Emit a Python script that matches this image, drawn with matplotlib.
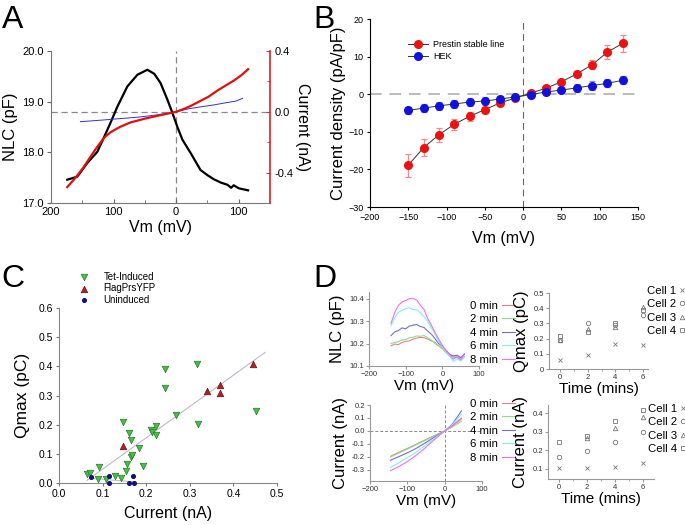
import numpy as np
import matplotlib
matplotlib.use("Agg")
import matplotlib.pyplot as plt

plt.rcParams['font.family'] = ['Liberation Sans', 'DejaVu Sans']

# ============================
# data: panel A (NLC and current vs Vm, axis reversed)
# ============================
vm_black = [174, 158, 142, 126, 117, 105, 94, 78, 62, 46, 35, 25, 14, 6, -2, -10,
            -23, -39, -50, -60, -72, -82, -88, -92, -100, -115]
nlc_black = [17.46, 17.52, 17.79, 18.01, 18.25, 18.58, 18.9, 19.3, 19.53, 19.63, 19.55,
             19.37, 19.04, 18.78, 18.5, 18.25, 17.99, 17.65, 17.55, 17.47, 17.4, 17.36,
             17.3, 17.35, 17.29, 17.25]
vm_red = [174, 160, 148, 136, 126, 115, 105, 90, 73, 50, 25, 0, -12, -25, -39, -52,
          -66, -80, -92, -104, -115]
i_red = [-0.495, -0.43, -0.365, -0.29, -0.23, -0.17, -0.135, -0.1, -0.07, -0.045,
         -0.022, 0.0, 0.018, 0.042, 0.072, 0.1, 0.14, 0.175, 0.205, 0.24, 0.28]
vm_blue = [153, 120, 90, 60, 30, 0, -20, -40, -60, -80, -95, -106]
i_blue = [-0.065, -0.055, -0.045, -0.035, -0.02, 0.0, 0.02, 0.033, 0.045, 0.06, 0.07, 0.088]

# ============================
# data: panel B (current density)
# ============================
vm_b = [-150, -130, -110, -90, -70, -50, -30, -10, 10, 30, 50, 70, 90, 110, 130]
prestin = [-18.9, -14.2, -10.8, -8.0, -5.9, -4.1, -2.3, -1.0, 0.3, 1.6, 3.3, 5.4, 7.8, 11.2, 13.5]
prestin_err = [3.0, 2.3, 1.8, 1.5, 1.1, 0.8, 0.5, 0.4, 0.4, 0.5, 0.6, 0.8, 1.2, 1.8, 2.3]
hek = [-4.3, -3.7, -3.1, -2.6, -2.1, -1.8, -1.3, -0.7, -0.1, 0.6, 1.1, 1.7, 2.3, 2.9, 3.7]
hek_err = [1.0, 1.0, 1.0, 1.0, 1.0, 1.0, 0.9, 0.8, 0.8, 0.8, 0.9, 1.0, 1.1, 1.1, 1.1]

# ============================
# data: panel C (Qmax vs current)
# ============================
tet_x = [0.064, 0.071, 0.092, 0.090, 0.107, 0.128, 0.143, 0.146, 0.153, 0.155, 0.160,
         0.165, 0.164, 0.168, 0.184, 0.193, 0.212, 0.213, 0.223, 0.223, 0.243, 0.243,
         0.268, 0.316, 0.318, 0.452]
tet_y = [0.032, 0.034, 0.055, 0.014, 0.015, 0.025, 0.016, 0.209, 0.041, 0.066, 0.170,
         0.149, 0.089, 0.096, 0.120, 0.057, 0.181, 0.176, 0.194, 0.163, 0.392, 0.326,
         0.232, 0.409, 0.203, 0.248]
flag_x = [0.146, 0.340, 0.370, 0.370, 0.444]
flag_y = [0.126, 0.314, 0.337, 0.309, 0.408]
unind_x = [0.073, 0.115, 0.115, 0.160, 0.170, 0.172]
unind_y = [0.020, 0.025, 0.0, 0.0, 0.024, 0.0]
fit_x = [0.064, 0.473]
fit_y = [0.009, 0.448]
fit_un_x = [0.071, 0.174]
fit_un_y = [0.016, 0.004]

# ============================
# data: panel D
# ============================
vm_d = [-140, -130, -120, -110, -100, -90, -80, -70, -60, -50, -40, -30, -20, -10,
        0, 10, 20, 30, 40, 50, 60]
nlc_d = {
    "0 min": [10.19, 10.198, 10.195, 10.205, 10.21, 10.212, 10.22, 10.224, 10.228, 10.226,
              10.22, 10.212, 10.205, 10.19, 10.178, 10.16, 10.152, 10.14, 10.138, 10.13, 10.14],
    "2 min": [10.2, 10.205, 10.208, 10.216, 10.218, 10.226, 10.228, 10.234, 10.232, 10.236,
              10.226, 10.216, 10.2, 10.19, 10.18, 10.168, 10.15, 10.142, 10.14, 10.135, 10.145],
    "4 min": [10.235, 10.252, 10.258, 10.27, 10.266, 10.278, 10.282, 10.285, 10.276, 10.272,
              10.256, 10.242, 10.222, 10.2, 10.188, 10.17, 10.152, 10.145, 10.148, 10.138, 10.152],
    "6 min": [10.28, 10.315, 10.34, 10.348, 10.356, 10.36, 10.352, 10.35, 10.338, 10.32,
              10.3, 10.27, 10.242, 10.21, 10.19, 10.16, 10.142, 10.12, 10.132, 10.122, 10.14],
    "8 min": [10.29, 10.338, 10.37, 10.386, 10.392, 10.4, 10.402, 10.394, 10.372, 10.352,
              10.312, 10.282, 10.25, 10.22, 10.192, 10.17, 10.15, 10.13, 10.142, 10.128, 10.155],
}
vm_iv = [-145, -120, -100, -80, -60, -40, -20, 0, 20, 45]
iv_d = {
    "0 min": [-0.195, -0.16, -0.135, -0.108, -0.08, -0.052, -0.026, 0.0, 0.035, 0.092],
    "2 min": [-0.2, -0.166, -0.14, -0.112, -0.083, -0.056, -0.028, 0.0, 0.03, 0.075],
    "4 min": [-0.225, -0.194, -0.168, -0.14, -0.106, -0.07, -0.035, 0.0, 0.05, 0.155],
    "6 min": [-0.28, -0.24, -0.205, -0.17, -0.128, -0.085, -0.042, 0.0, 0.045, 0.13],
    "8 min": [-0.305, -0.27, -0.235, -0.195, -0.15, -0.098, -0.048, 0.0, 0.04, 0.1],
}
min_colors = ["#f08080", "#88e088", "#7070d0", "#80f0f0", "#f070f0"]

time_d = [0, 2, 4, 6]
cells = ["Cell 1", "Cell 2", "Cell 3", "Cell 4"]
cell_markers = ["x", "o", "^", "s"]
qmax_d = [[0.06, 0.09, 0.165, 0.16],
          [0.19, 0.305, 0.29, 0.355],
          [0.19, 0.265, 0.275, 0.41],
          [0.22, 0.245, 0.305, 0.385]]
cur_d = [[0.103, 0.103, 0.112, 0.133],
         [0.165, 0.196, 0.246, 0.296],
         [np.nan, 0.264, 0.321, 0.378],
         [0.242, 0.278, 0.358, 0.416]]

# ============================
# figure
# ============================
FW, FH = 685, 525
fig = plt.figure(figsize=(6.85, 5.25), dpi=100)
fig.patch.set_facecolor("white")


def rect(l, t, r, b):
    return [l / FW, 1 - b / FH, (r - l) / FW, (b - t) / FH]


def letter(x, y, s):
    fig.text(x / FW, 1 - y / FH, s, fontsize=23, va="baseline", ha="left")


# ---------------- Panel A ----------------
ax = fig.add_axes(rect(51, 51, 270, 203))
ax.plot(vm_black, nlc_black, color="black", lw=1.6, zorder=3)
ax.axhline(18.8, color="#888888", lw=0.9, ls=(0, (5, 3)), zorder=1)
ax.axvline(0, color="#888888", lw=0.9, ls=(0, (5, 3)), zorder=1)
ax.set_xlim(200, -150)
ax.set_ylim(17, 20)
ax.set_xticks([200, 100, 0, -100])
ax.set_xticklabels(["200", "100", "0", "100"])
ax.set_xticks([150, 50, -50], minor=True)
ax.set_yticks([17, 18, 19, 20])
ax.set_yticklabels(["17.0", "18.0", "19.0", "20.0"])
ax.tick_params(axis="x", direction="in", length=3, labelsize=8, pad=3, color="#666666")
ax.tick_params(axis="x", which="minor", direction="in", length=2, color="#666666")
ax.tick_params(axis="y", direction="out", length=3, labelsize=8, pad=2, color="#666666")
for s in ["top", "right"]:
    ax.spines[s].set_visible(False)
for s in ["left", "bottom"]:
    ax.spines[s].set_color("#777777")
ax.set_xlabel("Vm (mV)", fontsize=11.5, labelpad=2)
ax.set_ylabel("NLC (pF)", fontsize=12, labelpad=3)

ax2 = ax.twinx()
ax2.plot(vm_red, i_red, color="#e01010", lw=1.6, zorder=3)
ax2.plot(vm_blue, i_blue, color="#3030e0", lw=0.7, zorder=2)
ax2.set_ylim(-0.6, 0.4)
ax2.set_yticks([-0.4, 0.0, 0.4])
ax2.set_yticklabels(["-0.4", "0.0", "0.4"])
ax2.set_yticks([-0.2, 0.2], minor=True)
ax2.tick_params(axis="y", direction="in", length=3, color="#e03030", labelsize=8, pad=3)
ax2.tick_params(axis="y", which="minor", direction="in", length=2, color="#e03030")
for s in ["top", "left", "bottom"]:
    ax2.spines[s].set_visible(False)
ax2.spines["right"].set_color("#e02020")
ax2.spines["right"].set_linewidth(1.2)
ax2.set_ylabel("Current (nA)", fontsize=11.5, rotation=270, labelpad=12)
letter(2, 28, "A")

# ---------------- Panel B ----------------
bx = fig.add_axes(rect(370, 19, 638, 207))
bx.axhline(0, color="#bbbbbb", lw=1.4, ls=(0, (6, 4)), zorder=1)
bx.axvline(0, color="#666666", lw=0.8, ls=(0, (6, 4)), zorder=1)
bx.errorbar(vm_b, prestin, yerr=prestin_err, fmt="none", ecolor="#f08a8a",
            elinewidth=0.9, capsize=2.5, capthick=0.9, zorder=2)
bx.errorbar(vm_b, hek, yerr=hek_err, fmt="none", ecolor="#8a8af0",
            elinewidth=0.9, capsize=2.5, capthick=0.9, zorder=2)
bx.plot(vm_b, prestin, color="#333333", lw=0.7, marker="o", ms=5.5,
        mfc="#ee1111", mec="#ee1111", label="Prestin stable line", zorder=3)
bx.plot(vm_b, hek, color="#333333", lw=0.7, marker="o", ms=5.5,
        mfc="#1111dd", mec="#1111dd", label="HEK", zorder=3)
bx.set_xlim(-200, 150)
bx.set_ylim(-30, 20)
bx.set_xticks([-200, -150, -100, -50, 0, 50, 100, 150])
bx.set_yticks([-30, -20, -10, 0, 10, 20])
bx.tick_params(direction="out", length=2.5, labelsize=6.5, pad=2)
for s in ["top", "right"]:
    bx.spines[s].set_visible(False)
bx.set_xlabel("Vm (mV)", fontsize=11.5, labelpad=6)
bx.set_ylabel("Current density (pA/pF)", fontsize=12, labelpad=2)
bx.legend(loc="upper left", bbox_to_anchor=(408 / FW, 1 - 40 / FH),
          bbox_transform=fig.transFigure, frameon=False, fontsize=6.5,
          handlelength=2.2, handletextpad=0.6, labelspacing=0.3, borderpad=0,
          borderaxespad=0)
letter(313, 28, "B")

# ---------------- Panel C ----------------
cx = fig.add_axes(rect(59, 308, 277, 483))
cx.plot(fit_x, fit_y, color="#c0b8c8", lw=0.8, zorder=1)
cx.plot(fit_un_x, fit_un_y, color="#c0c0c0", lw=0.8, zorder=1)
cx.scatter(tet_x, tet_y, marker="v", s=22, color="#44c044", edgecolors="#2a7a2a",
           linewidths=0.5, label="Tet-Induced", zorder=3, clip_on=False)
cx.scatter(flag_x, flag_y, marker="^", s=22, color="#b02020", edgecolors="#701010",
           linewidths=0.5, label="FlagPrsYFP", zorder=3, clip_on=False)
cx.scatter(unind_x, unind_y, marker="o", s=7, color="#101080",
           label="Uninduced", zorder=4, clip_on=False)
cx.set_xlim(0, 0.5)
cx.set_ylim(0, 0.6)
cx.set_xticks([0, 0.1, 0.2, 0.3, 0.4, 0.5])
cx.set_xticklabels(["0.0", "0.1", "0.2", "0.3", "0.4", "0.5"])
cx.set_yticks([0, 0.1, 0.2, 0.3, 0.4, 0.5, 0.6])
cx.set_yticklabels(["0.0", "0.1", "0.2", "0.3", "0.4", "0.5", "0.6"])
cx.tick_params(direction="out", length=2.5, labelsize=7.5, pad=2, color="#777777")
for s in ["top", "right"]:
    cx.spines[s].set_visible(False)
for s in ["left", "bottom"]:
    cx.spines[s].set_color("#888888")
cx.set_xlabel("Current (nA)", fontsize=11.5, labelpad=5)
cx.set_ylabel("Qmax (pC)", fontsize=12.5, labelpad=6)
cx.legend(loc="upper left", bbox_to_anchor=(80 / FW, 1 - 272 / FH),
          bbox_transform=fig.transFigure, frameon=False, fontsize=7,
          handlelength=0.8, handletextpad=1.6, labelspacing=0.15, borderpad=0,
          borderaxespad=0, scatterpoints=1)
letter(1, 287, "C")

# ---------------- Panel D ----------------
def style_d(a):
    for s in ["top", "right"]:
        a.spines[s].set_visible(False)
    for s in ["left", "bottom"]:
        a.spines[s].set_color("#999999")
    a.tick_params(direction="out", length=2, labelsize=5.5, pad=1.5,
                  color="#999999", labelcolor="#333333")


leg_kw = dict(bbox_transform=fig.transFigure, frameon=False, fontsize=8.2,
              markerfirst=False, labelspacing=0.3, borderpad=0, borderaxespad=0,
              loc="upper left")

# top-left: NLC traces
d1 = fig.add_axes(rect(369, 292, 479, 366))
for (lab, vals), col in zip(nlc_d.items(), min_colors):
    d1.plot(vm_d, vals, color=col, lw=0.8, label=lab)
d1.set_xlim(-200, 100)
d1.set_ylim(10.1, 10.43)
d1.set_xticks([-200, -100, 0, 100])
d1.set_yticks([10.1, 10.2, 10.3, 10.4])
d1.set_yticklabels(["10.1", "10.2", "10.3", "10.4"])
style_d(d1)
d1.set_xlabel("Vm (mV)", fontsize=11, labelpad=1)
d1.set_ylabel("NLC (pF)", fontsize=12, labelpad=3)
d1.legend(bbox_to_anchor=(470 / FW, 1 - 301 / FH), handlelength=1.1,
          handletextpad=0.4, **leg_kw)

# bottom-left: IV traces
d2 = fig.add_axes(rect(370, 405, 482, 481))
d2.axhline(0, color="#888888", lw=0.7, ls=(0, (3, 2)), zorder=1)
d2.axvline(0, color="#888888", lw=0.7, ls=(0, (3, 2)), zorder=1)
for (lab, vals), col in zip(iv_d.items(), min_colors):
    d2.plot(vm_iv, vals, color=col, lw=0.8, label=lab)
d2.set_xlim(-200, 100)
d2.set_ylim(-0.385, 0.2)
d2.set_xticks([-200, -100, 0, 100])
d2.set_yticks([-0.3, -0.2, -0.1, 0.0, 0.1, 0.2])
d2.set_yticklabels(["-0.3", "-0.2", "-0.1", "0.0", "0.1", "0.2"])
style_d(d2)
d2.set_xlabel("Vm (mV)", fontsize=11, labelpad=1)
d2.set_ylabel("Current (nA)", fontsize=12, labelpad=3)
d2.legend(bbox_to_anchor=(470 / FW, 1 - 399 / FH), handlelength=1.1,
          handletextpad=0.4, **leg_kw)

# top-right: Qmax over time
d3 = fig.add_axes(rect(549, 293, 648, 369))
for lab, m, vals in zip(cells, cell_markers, qmax_d):
    d3.plot(time_d, vals, ls="none", marker=m, ms=3.2, mfc="none", mec="#777777",
            mew=0.6, label=lab, clip_on=False)
d3.set_xlim(-0.8, 6.36)
d3.set_ylim(0, 0.5)
d3.set_xticks([0, 2, 4, 6])
d3.set_xticks([1, 3, 5], minor=True)
d3.set_yticks([0, 0.1, 0.2, 0.3, 0.4, 0.5])
d3.set_yticklabels(["0", "0.1", "0.2", "0.3", "0.4", "0.5"])
style_d(d3)
d3.tick_params(which="minor", direction="out", length=1.5, color="#999999")
d3.set_xlabel("Time (mins)", fontsize=11, labelpad=1)
d3.set_ylabel("Qmax (pC)", fontsize=12, labelpad=3)
d3.legend(bbox_to_anchor=(647 / FW, 1 - 286 / FH), handlelength=0.5,
          handletextpad=0.3, **leg_kw)

# bottom-right: current over time
d4 = fig.add_axes(rect(548, 405, 654, 479))
for lab, m, vals in zip(cells, cell_markers, cur_d):
    d4.plot(time_d, vals, ls="none", marker=m, ms=3.2, mfc="none", mec="#777777",
            mew=0.6, label=lab, clip_on=False)
d4.set_xlim(-0.8, 6.8)
d4.set_ylim(0.046, 0.443)
d4.set_xticks([0, 2, 4, 6])
d4.set_xticks([1, 3, 5], minor=True)
d4.set_yticks([0.1, 0.2, 0.3, 0.4])
style_d(d4)
d4.tick_params(which="minor", direction="out", length=1.5, color="#999999")
d4.set_xlabel("Time (mins)", fontsize=11, labelpad=1)
d4.set_ylabel("Current (nA)", fontsize=12, labelpad=3)
d4.legend(bbox_to_anchor=(648 / FW, 1 - 404 / FH), handlelength=0.5,
          handletextpad=0.3, **leg_kw)
letter(313, 287, "D")

fig.savefig("out.png", dpi=100, facecolor="white")
